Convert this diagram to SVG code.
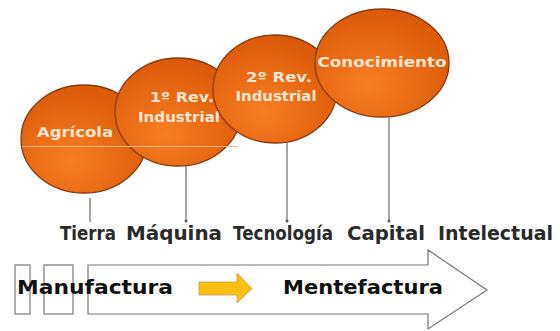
<svg xmlns="http://www.w3.org/2000/svg" width="560" height="331" viewBox="0 0 560 331">
<defs>
<radialGradient id="og" cx="0.4" cy="0.7" r="0.75">
<stop offset="0" stop-color="#F77E22"/>
<stop offset="1" stop-color="#D95606"/>
</radialGradient>
<style>
.c{fill:url(#og);stroke:#8A3A10;stroke-width:1.3}
.lbl{font-family:"DejaVu Sans","Liberation Sans",sans-serif;font-weight:bold;font-size:14px;fill:#FDE6D2;text-anchor:middle}
.con{stroke:#777;stroke-width:1.3;fill:none}
.word{font-family:"DejaVu Sans","Liberation Sans",sans-serif;font-weight:bold;font-size:19px;fill:#2a2a2a}
.big{font-family:"DejaVu Sans","Liberation Sans",sans-serif;font-weight:bold;font-size:19px;fill:#111}
.box{fill:none;stroke:#777;stroke-width:1.2}
</style>
</defs>
<rect width="560" height="331" fill="#fff"/>
<g id="agricola">
<ellipse class="c" cx="84" cy="139" rx="63" ry="54"/>
<text class="lbl" x="75" y="137" textLength="76" lengthAdjust="spacingAndGlyphs">Agrícola</text>
</g>
<g id="rev1">
<ellipse class="c" cx="178" cy="112" rx="63" ry="54"/>
<text class="lbl" x="182" y="102" textLength="64" lengthAdjust="spacingAndGlyphs">1º Rev.</text>
<text class="lbl" x="179" y="122" textLength="82" lengthAdjust="spacingAndGlyphs">Industrial</text>
</g>
<line x1="22" y1="146.5" x2="238" y2="146.5" stroke="#F6B98A" stroke-width="1"/>
<g id="rev2">
<ellipse class="c" cx="275" cy="89" rx="62" ry="54"/>
<text class="lbl" x="279" y="82" textLength="66" lengthAdjust="spacingAndGlyphs">2º Rev.</text>
<text class="lbl" x="276" y="101" textLength="81" lengthAdjust="spacingAndGlyphs">Industrial</text>
</g>
<g id="conocimiento">
<ellipse class="c" cx="382" cy="63" rx="67" ry="54"/>
<text class="lbl" x="382" y="67" textLength="129" lengthAdjust="spacingAndGlyphs">Conocimiento</text>
</g>
<g id="connectors">
<line class="con" x1="90" y1="198" x2="90" y2="222"/>
<line class="con" x1="186" y1="166" x2="186" y2="221"/>
<circle cx="186" cy="221" r="1.5" fill="#555"/>
<line class="con" x1="287" y1="143" x2="287" y2="221"/>
<circle cx="287" cy="221" r="1.5" fill="#555"/>
<line class="con" x1="389" y1="117" x2="389" y2="221"/>
<circle cx="389" cy="221" r="1.5" fill="#555"/>
</g>
<g id="labels">
<text class="word" x="60" y="240" textLength="56" lengthAdjust="spacingAndGlyphs">Tierra</text>
<text class="word" x="126" y="240" textLength="96" lengthAdjust="spacingAndGlyphs">Máquina</text>
<text class="word" x="233" y="240" textLength="100" lengthAdjust="spacingAndGlyphs">Tecnología</text>
<text class="word" x="347" y="240" textLength="78" lengthAdjust="spacingAndGlyphs">Capital</text>
<text class="word" x="438" y="240" textLength="115" lengthAdjust="spacingAndGlyphs">Intelectual</text>
</g>
<g id="big-arrow">
<path class="box" d="M88 265 L428 265 L428 250 L487 290 L428 329 L428 314 L88 314 Z"/>
</g>
<g id="boxes">
<rect class="box" x="15" y="265" width="15" height="49"/>
<rect class="box" x="44" y="265" width="29" height="49"/>
</g>
<text class="big" x="17" y="294" textLength="156" lengthAdjust="spacingAndGlyphs">Manufactura</text>
<g id="yellow-arrow">
<path d="M199 282 L237 282 L237 273 L252 288.5 L237 303 L237 295 L199 295 Z" fill="#FBC012" stroke="#B8A060" stroke-width="0.8"/>
</g>
<text class="big" x="283" y="294" textLength="160" lengthAdjust="spacingAndGlyphs">Mentefactura</text>
</svg>
